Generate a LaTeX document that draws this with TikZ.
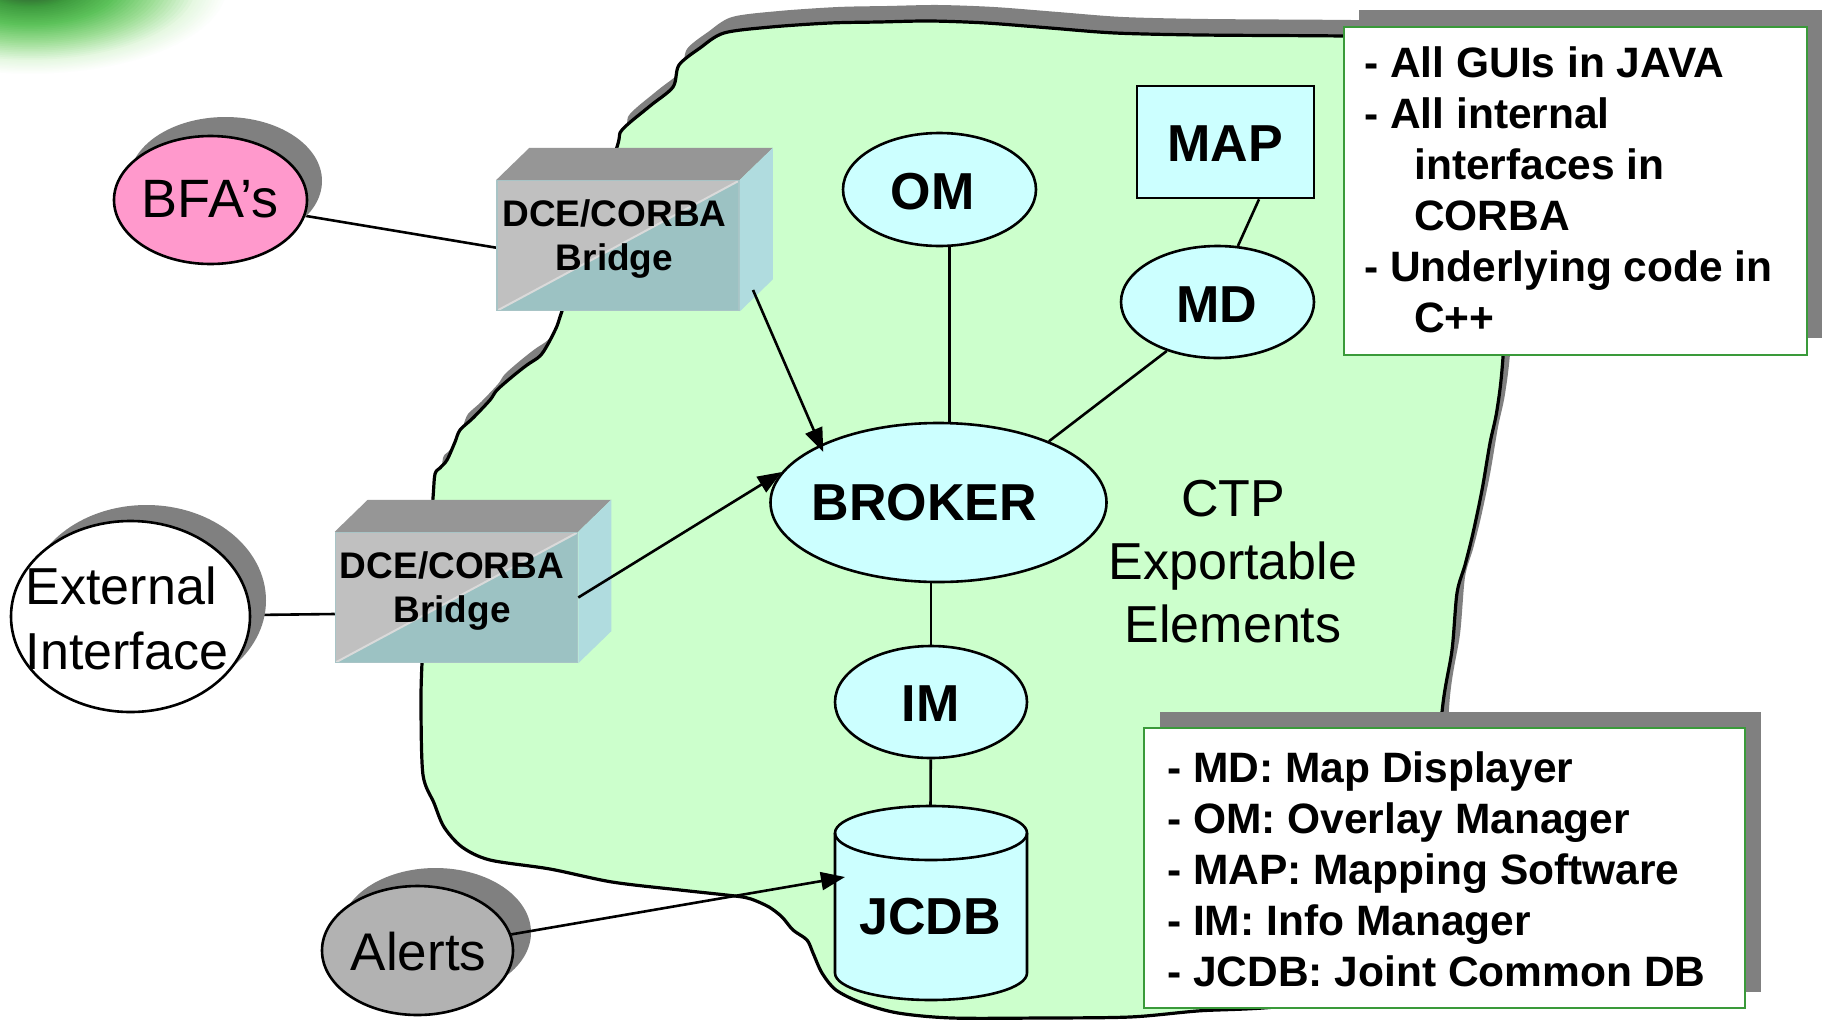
\documentclass[tikz,border=0pt]{standalone}
\usepackage{fontspec}
\setmainfont{Liberation Sans}
\usetikzlibrary{shapes.geometric, arrows.meta, shadows}

\definecolor{blobfill}{HTML}{CCFFCC}
\definecolor{cyanfill}{HTML}{CCFFFF}
\definecolor{pinkfill}{HTML}{FF99CC}
\definecolor{alertfill}{HTML}{B2B2B2}
\definecolor{shadowgray}{HTML}{808080}
\definecolor{notegreen}{HTML}{3A9A3A}
\definecolor{bridgelight}{HTML}{C0C0C0}
\definecolor{bridgedark}{HTML}{9CC2C3}
\definecolor{bridgetop}{HTML}{969696}
\definecolor{bridgeside}{HTML}{B0DCDF}
\definecolor{bridgeedge}{HTML}{A8C4C6}
\definecolor{bridgeshine}{HTML}{DADADA}
% corner glow ramp, from the rim inwards
\definecolor{glowA}{HTML}{E6F8E2}
\definecolor{glowB}{HTML}{9EDE96}
\definecolor{glowC}{HTML}{5CC25A}
\definecolor{glowD}{HTML}{3D9A3D}
\definecolor{glowE}{HTML}{2E5F30}
\definecolor{glowF}{HTML}{2A3A2C}

\pgfdeclarelayer{bg}
\pgfdeclarelayer{wires}
\pgfsetlayers{bg,wires,main}

% outline of the CTP region
\newcommand\blobpath{plot[smooth cycle, tension=0.5] coordinates {
  (724,33) (771,27) (830,23) (879,22) (930,21) (986,23) (1050,28) (1115,33)
  (1200,35) (1343,36) (1440,38) (1500,50) (1512,200) (1503,357) (1497,410)
  (1490,443) (1482,490) (1473,533) (1465,565) (1457,593) (1452,650) (1442,712)
  (1432,850) (1405,960) (1300,1003) (1197,1011) (1130,1017) (1041,1018)
  (952,1018) (898,1013) (862,1003) (836,990) (822,973) (813,953) (807,940)
  (793,930) (782,917) (769,907) (751,899) (735,896) (680,890) (612,882)
  (550,869) (490,860) (462,847) (444,827) (434,803) (423,775) (421,708)
  (422,663) (427,580) (433,498) (435,474) (440,468) (447,460) (455,442)
  (460,430) (473,418) (490,400) (497,390) (513,376) (527,365) (540,356)
  (548,344) (557,326) (562,311) (590,230) (617,147) (622,130) (650,106)
  (673,87) (679,65) (700,48)}}

\begin{document}
\begin{tikzpicture}[x=1pt, y=-1pt,
  wire/.style={draw=black, line width=2.6pt},
  arrowwire/.style={wire, -{Triangle[length=24pt, width=18pt]}},
  ell/.style={ellipse, draw=black, line width=2.6pt, inner sep=0pt},
  dropshadow/.style 2 args={general shadow={fill=shadowgray, shadow xshift=#1, shadow yshift=#2}},
  boldlabel/.style={font=\fontsize{52}{62}\selectfont\bfseries, inner sep=0pt},
  plainlabel/.style={font=\fontsize{52}{65}\selectfont, inner sep=0pt},
  ctplabel/.style={font=\fontsize{52}{63}\selectfont, inner sep=0pt, align=center},
  notebox/.style={rectangle, draw=notegreen, line width=2.6pt, fill=white, inner sep=0pt},
  notetext/.style={font=\fontsize{42.5}{51}\selectfont\bfseries, align=left, inner sep=0pt, anchor=north west},
  bridgefront/.style={rectangle, minimum width=242pt, minimum height=130pt, inner sep=0pt,
    fill=bridgelight, draw=bridgeedge, line width=1.5pt,
    path picture={
      \fill[bridgedark] (path picture bounding box.south west) -- (path picture bounding box.north east)
        -- (path picture bounding box.south east) -- cycle;
      \draw[bridgeshine, line width=2pt] (path picture bounding box.south west) -- (path picture bounding box.north east);}},
  bridgelabel/.style={font=\fontsize{37}{44}\selectfont\bfseries, align=center, inner sep=0pt}
]
\useasboundingbox (0,0) rectangle (1822,1020);

% ---------- background: corner glow and the CTP region ----------
\begin{pgfonlayer}{bg}
  \fill[white] (0,0) rectangle (1822,1020);
  \begin{scope}
    \clip (0,0) rectangle (1822,1020);
    \foreach \ca/\cb/\ta/\tb in {white/glowA/0/0.15, glowA/glowB/0.15/0.35, glowB/glowC/0.35/0.55,
                                 glowC/glowD/0.55/0.75, glowD/glowE/0.75/0.9, glowE/glowF/0.9/1}{
      \foreach \s in {0,...,9}{
        \pgfmathsetmacro\tt{\ta+(\tb-\ta)*\s/10}
        \pgfmathsetmacro\pp{10*\s}
        \fill[\cb!\pp!\ca] (30,-15) ellipse [x radius={(1-\tt)*200pt}, y radius={(1-\tt)*90pt}];
      }
    }
  \end{scope}
  \begin{scope}[shift={(8,-16)}]
    \fill[shadowgray] \blobpath;
  \end{scope}
  \filldraw[fill=blobfill, draw=black, line width=3.2pt, line join=round] \blobpath;
\end{pgfonlayer}

% ---------- outside elements ----------
\node[ell, fill=pinkfill, dropshadow={15pt}{19pt}, minimum width=193pt, minimum height=128pt] (bfa) at (210.5,200) {};
\node[ell, fill=white, dropshadow={16pt}{16pt}, minimum width=239pt, minimum height=191pt] (ext) at (130.5,616.5) {};
\node[ell, fill=alertfill, dropshadow={18pt}{18pt}, minimum width=191pt, minimum height=129pt] (alerts) at (417.5,950.5) {};

% ---------- CTP elements ----------
\node[ell, fill=cyanfill, minimum width=336pt, minimum height=159pt] (broker) at (938.5,502.5) {};
\node[ell, fill=cyanfill, minimum width=193pt, minimum height=113pt] (om) at (939.5,189.5) {};
\node[ell, fill=cyanfill, minimum width=193pt, minimum height=112pt] (md) at (1217.5,302) {};
\node[ell, fill=cyanfill, minimum width=192pt, minimum height=112pt] (im) at (931,702) {};
\node[rectangle, draw=black, line width=2.6pt, fill=cyanfill, inner sep=0pt,
      minimum width=177pt, minimum height=112pt] (map) at (1225.5,142) {};

% database cylinder
\filldraw[fill=cyanfill, draw=black, line width=2.6pt]
  (835,833) -- (835,973) arc[start angle=180, end angle=360, x radius=96pt, y radius=27pt]
  -- (1027,833) arc[start angle=0, end angle=180, x radius=96pt, y radius=27pt] -- cycle;
\draw[line width=2.6pt] (835,833) arc[start angle=180, end angle=360, x radius=96pt, y radius=27pt];

% ---------- bridges ----------
\node[bridgefront] (br1) at (618,245.7) {};
\fill[bridgetop] (br1.north west) -- ++(33,-32) -- ([shift={(33,-32)}]br1.north east) -- (br1.north east) -- cycle;
\fill[bridgeside] (br1.north east) -- ++(33,-32) -- ([shift={(33,-32)}]br1.south east) -- (br1.south east) -- cycle;

\node[bridgefront] (br2) at (456.5,597.5) {};
\fill[bridgetop] (br2.north west) -- ++(33,-32) -- ([shift={(33,-32)}]br2.north east) -- (br2.north east) -- cycle;
\fill[bridgeside] (br2.north east) -- ++(33,-32) -- ([shift={(33,-32)}]br2.south east) -- (br2.south east) -- cycle;

\node[bridgelabel] (br1text) at (614.5,238.9) {DCE/CORBA\\Bridge};
\node[bridgelabel] (br2text) at (452,591.4) {DCE/CORBA\\Bridge};

% ---------- labels ----------
\node[plainlabel, font=\fontsize{54}{65}\selectfont] (bfatext) at (210,199) {BFA’s};
\node[plainlabel, align=left] (exttext) at (127,618) {External\\Interface};
\node[plainlabel, font=\fontsize{53}{65}\selectfont] (alertstext) at (418.5,951.5) {Alerts};
\node[boldlabel] (brokertext) at (924.5,503) {BROKER};
\node[boldlabel] (omtext) at (932.5,191.5) {OM};
\node[boldlabel] (maptext) at (1225,144) {MAP};
\node[boldlabel] (mdtext) at (1217,304.5) {MD};
\node[boldlabel] (imtext) at (930.5,703.5) {IM};
\node[boldlabel] (jcdb) at (930,917) {JCDB};
\node[ctplabel] (ctp) at (1233,561.4) {CTP\\Exportable\\Elements};

% ---------- note boxes ----------
\node[notebox, dropshadow={15pt}{17pt}, minimum width=463pt, minimum height=328pt] (notesA) at (1575.5,190.8) {};
\node[notetext] (notesAtext) at (1364,46.6)
  {- All GUIs in JAVA\\- All internal\\\hspace*{50pt}interfaces in\\\hspace*{50pt}CORBA\\- Underlying code in\\\hspace*{50pt}C++};
\node[notebox, dropshadow={16pt}{16pt}, minimum width=601pt, minimum height=280pt] (notesB) at (1444.5,868) {};
\node[notetext] (notesBtext) at (1167,751.6)
  {- MD: Map Displayer\\- OM: Overlay Manager\\- MAP: Mapping Software\\- IM: Info Manager\\- JCDB: Joint Common DB};

% ---------- plain connectors ----------
\begin{pgfonlayer}{wires}
  \draw[wire] (bfa) -- ([yshift=-2pt]br1.west);
  \draw[wire] (ext) -- ([yshift=-16.5pt]br2.west);
  \draw[wire] ([xshift=10pt]om.center) -- ([xshift=10pt]om.center |- broker.center);
  \draw[wire] ([xshift=33.5pt]map.south) -- (md.70);
  \draw[wire] (md.224) -- (broker.29);
  \draw[wire] (im |- broker) -- (im);
  \draw[wire] (im) -- (jcdb);
\end{pgfonlayer}

% ---------- arrows ----------
\coordinate (br1out) at (753,290);
\coordinate (jcdbin) at (845,877);
\draw[arrowwire, shorten >=-8pt] (br1out) -- (broker.154);
\draw[arrowwire] (br2.east) -- (broker.169);
\draw[arrowwire] (alerts) -- (jcdbin);
\end{tikzpicture}
\end{document}
